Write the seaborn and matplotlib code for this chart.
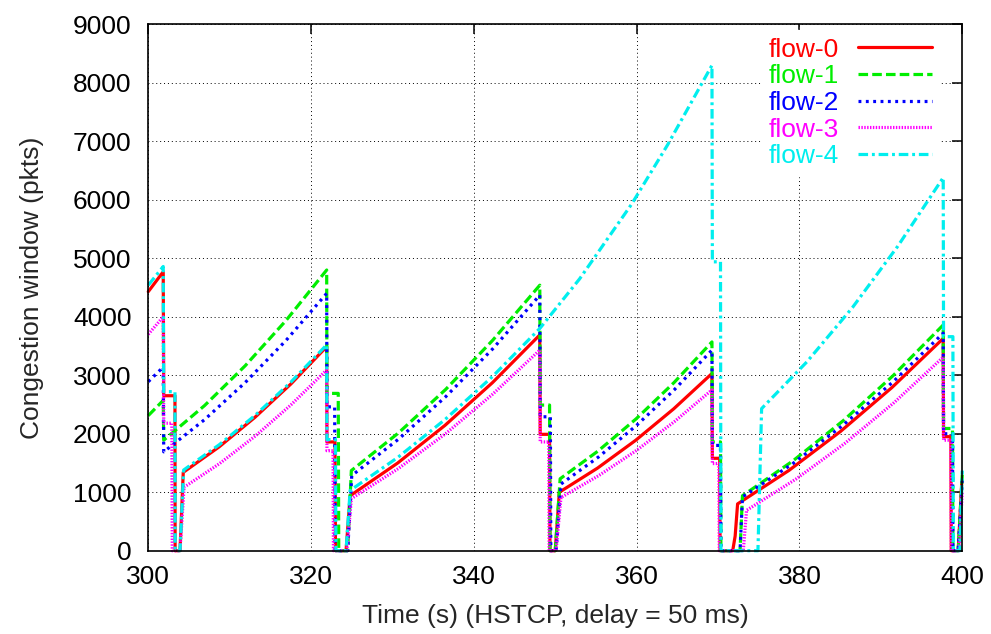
import matplotlib
matplotlib.use("Agg")
import matplotlib.pyplot as plt
import seaborn as sns
import pandas as pd

# ---- data (time in s, congestion window in pkts) ----
flow0_t = [300, 301.84, 301.9, 303.28, 303.3, 303.9, 304.3, 308.71, 313.11, 317.52, 321.92, 321.95, 322.94, 323.0,
           324.3, 324.8, 330.63, 336.45, 342.28, 348.1, 348.15, 349.3, 349.35, 350.0, 350.5, 355.19, 359.88, 364.56,
           369.25, 369.3, 370.2, 370.25, 371.8, 372.1, 372.4, 378.72, 385.03, 391.35, 397.66, 397.7, 398.6, 398.65,
           399.5, 399.95]
flow0_w = [4430, 4770, 2650, 2650, 0, 0, 1340, 1776, 2281, 2851, 3490, 1860, 1860, 0,
           0, 940, 1498, 2143, 2873, 3690, 1990, 1990, 0, 0, 1000, 1412, 1888, 2427,
           3030, 1580, 1580, 0, 0, 250, 800, 1374, 2038, 2789, 3630, 1950, 1950, 0,
           0, 1200]

flow1_t = [300, 301.84, 301.9, 306.91, 311.91, 316.92, 321.92, 321.95, 323.34, 323.4, 324.5, 324.95, 330.74,
           336.53, 342.31, 348.1, 348.15, 349.3, 349.35, 350.0, 350.6, 355.26, 359.93, 364.59, 369.25, 369.3,
           370.3, 370.35, 372.7, 373.0, 379.17, 385.33, 391.5, 397.66, 397.7, 398.8, 398.85, 399.5, 400]
flow1_w = [2310, 2570, 1890, 2481, 3163, 3936, 4800, 2690, 2690, 0, 0, 1370, 2014,
           2757, 3598, 4540, 2490, 2490, 0, 0, 1230, 1705, 2254, 2875, 3570, 1860,
           1860, 0, 0, 940, 1533, 2218, 2993, 3860, 2090, 2090, 0, 0, 1300]

flow2_t = [300, 301.84, 301.9, 306.91, 311.91, 316.92, 321.92, 321.95, 322.9, 322.95, 324.5, 325.0, 330.78,
           336.55, 342.33, 348.1, 348.15, 349.4, 349.45, 350.1, 350.7, 355.34, 359.98, 364.61, 369.25, 369.3,
           370.3, 370.35, 372.7, 373.0, 379.17, 385.33, 391.5, 397.66, 397.7, 398.8, 398.85, 399.5, 400]
flow2_w = [2890, 3140, 1690, 2240, 2876, 3595, 4400, 2460, 2460, 0, 0, 1285, 1911,
           2635, 3454, 4370, 2290, 2290, 0, 0, 1140, 1605, 2142, 2750, 3430, 1800,
           1800, 0, 0, 920, 1488, 2145, 2888, 3720, 2000, 2000, 0, 0, 1200]

flow3_t = [300, 301.84, 301.9, 302.9, 302.95, 303.9, 304.4, 308.78, 313.16, 317.54, 321.92, 321.95, 322.7,
           322.75, 324.4, 324.95, 330.74, 336.53, 342.31, 348.1, 348.15, 349.2, 349.25, 350.1, 350.7, 355.34,
           359.98, 364.61, 369.25, 369.3, 370.1, 370.15, 373.1, 373.5, 379.54, 385.58, 391.62, 397.66, 397.7,
           398.6, 398.65, 399.6, 400]
flow3_w = [3700, 4000, 2180, 2180, 0, 0, 1085, 1492, 1962, 2495, 3090, 1710, 1710,
           0, 0, 890, 1406, 2001, 2676, 3430, 1860, 1860, 0, 0, 910, 1284,
           1715, 2204, 2750, 1490, 1490, 0, 0, 690, 1222, 1836, 2532, 3310, 1890,
           1890, 0, 0, 1000]

flow4_t = [300, 301.84, 301.9, 303.28, 303.3, 303.9, 304.35, 308.74, 313.14, 317.53, 321.92, 321.95, 323.0,
           323.05, 324.3, 324.8, 330.63, 336.45, 342.28, 348.1, 353.0, 359.4, 363.8, 369.25, 369.3, 370.3,
           370.35, 374.9, 375.35, 380.93, 386.51, 392.08, 397.66, 397.7, 398.85, 398.9, 399.7, 400]
flow4_w = [4540, 4860, 2720, 2720, 0, 0, 1380, 1814, 2316, 2884, 3520, 1900, 1900,
           0, 0, 1030, 1592, 2242, 2977, 3800, 4650, 5930, 6940, 8300, 4940, 4940,
           0, 0, 2430, 3232, 4158, 5207, 6380, 3660, 3660, 0, 0, 1370]

labels = ["flow-0", "flow-1", "flow-2", "flow-3", "flow-4"]
colors = ["#ff0000", "#00ee00", "#0000ff", "#ff00ff", "#00eeee"]
dash_styles = ["", (3, 1.3), (0.9, 1.4), (0.45, 0.45), (3, 1.2, 0.9, 1.2)]

x_ticks = [300, 320, 340, 360, 380, 400]
y_ticks = [0, 1000, 2000, 3000, 4000, 5000, 6000, 7000, 8000, 9000]

series = [(flow0_t, flow0_w), (flow1_t, flow1_w), (flow2_t, flow2_w),
          (flow3_t, flow3_w), (flow4_t, flow4_w)]

FS = 19

# ---- style ----
sns.set_style("white")
plt.rcParams["font.family"] = ["Liberation Sans", "DejaVu Sans"]
plt.rcParams["font.size"] = FS

fig = plt.figure(figsize=(9.91, 6.34), dpi=100)
ax = fig.add_axes([0.1496, 0.1314, 0.8214, 0.8301])

for (t, w), lab, col, ds in zip(series, labels, colors, dash_styles):
    df = pd.DataFrame({"t": t, "w": w})
    sns.lineplot(data=df, x="t", y="w", ax=ax, color=col, linewidth=2.3,
                 estimator=None, sort=False, label=lab)
    line = ax.get_lines()[-1]
    if ds:
        line.set_dashes(ds)
    line.set_clip_on(False)

ax.set_xlim(300, 400)
ax.set_ylim(0, 9000)
ax.set_xticks(x_ticks)
ax.set_yticks(y_ticks)
ax.grid(True, color="black", linestyle=(0, (1, 3)), linewidth=0.7)
ax.set_axisbelow(True)
ax.tick_params(direction="in", length=7, width=1.1, top=True, right=True,
               labelsize=FS, colors="black")
ax.tick_params(axis="x", pad=10)
ax.tick_params(axis="y", pad=12)
for s in ax.spines.values():
    s.set_color("black")
    s.set_linewidth(1.2)

ax.set_xlabel("Time (s) (HSTCP, delay = 50 ms)", fontsize=FS, labelpad=11)
ax.set_ylabel("Congestion window (pkts)", fontsize=FS, labelpad=21)

leg = ax.legend(loc="upper right", bbox_to_anchor=(0.972, 0.990), markerfirst=False,
                handlelength=2.8, handletextpad=0.7, labelspacing=0.1, borderpad=0.3,
                borderaxespad=0, frameon=True, fontsize=FS)
leg.get_frame().set_facecolor("white")
leg.get_frame().set_edgecolor("white")
leg.get_frame().set_alpha(1)
for txt, col in zip(leg.get_texts(), colors):
    txt.set_color(col)
leg.set_zorder(5)

fig.savefig("out.png", dpi=100)
